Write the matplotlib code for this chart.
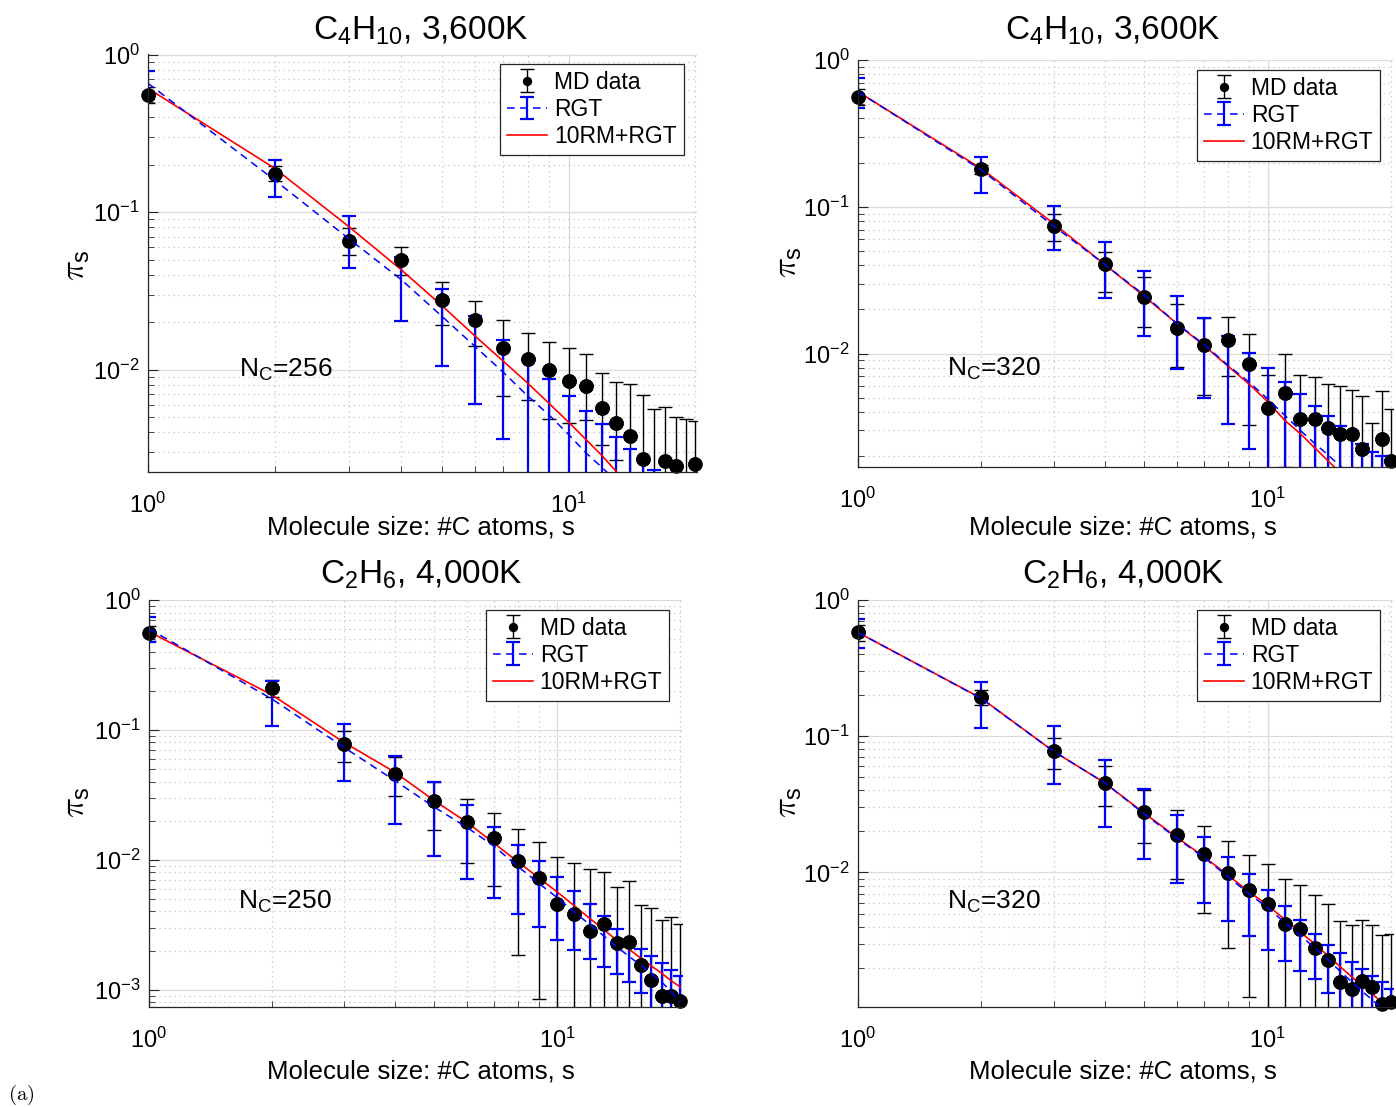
import numpy as np
import matplotlib
matplotlib.use('Agg')
import matplotlib.pyplot as plt
from matplotlib.ticker import LogLocator, NullFormatter

plt.rcParams['font.family'] = ['Liberation Sans', 'DejaVu Sans']
plt.rcParams['mathtext.default'] = 'regular'

# molecule size s = number of C atoms
s = list(range(1, 21))

# ---- C4H10, 3,600K, Nc=256 ----
p1_md = [0.555, 0.175, 0.066, 0.0499, 0.0278, 0.0207, 0.0137, 0.0117, 0.0099, 0.0085,
         0.0079, 0.0057, 0.0046, 0.0038, 0.0027, 0.0019, 0.00265, 0.00244, 0.0019, 0.0025]
p1_md_hi = [0.62, 0.195, 0.0792, 0.060, 0.0361, 0.0274, 0.0206, 0.0170, 0.0150, 0.01365,
            0.01256, 0.00953, 0.00835, 0.00807, 0.0069, 0.00564, 0.0058, 0.00501, 0.00484, 0.0047]
p1_md_lo = [0.49, 0.157, 0.0531, 0.0401, 0.0193, 0.0142, 0.00678, 0.00642, 0.00487, 0.00459,
            0.00482, 0.00331, 0.00266, 1e-5, 1e-5, 1e-5, 1e-5, 1e-5, 1e-5, 1e-5]
p1_rgt = [0.658, 0.160, 0.068, 0.0373, 0.0218, 0.0140, 0.0096, 0.0068, 0.00513, 0.00388,
          0.00296, 0.0024, 0.00195, 0.0016, 0.0013, 0.0011, 0.0009, 0.00075, 0.00065, 0.00055]
p1_rgt_hi = [0.792, 0.215, 0.0948, 0.0523, 0.0327, 0.0219, 0.0155, 0.01156, 0.00873, 0.00685,
             0.00547, 0.00452, 0.00373, 0.00314, 0.00269, 0.0023, 0.0019, 0.0016, 0.0014, 0.0012]
p1_rgt_lo = [0.524, 0.124, 0.0441, 0.0203, 0.0106, 0.00608, 0.00365, 1e-5, 1e-5, 1e-5,
             1e-5, 1e-5, 1e-5, 1e-5, 1e-5, 1e-5, 1e-5, 1e-5, 1e-5, 1e-5]
p1_rm = [0.611, 0.190, 0.0811, 0.0431, 0.0255, 0.0163, 0.0113, 0.0082, 0.00608, 0.00464,
         0.0036, 0.00285, 0.00225, 0.0018, 0.00145, 0.0012, 0.0010, 0.00085, 0.0007, 0.0006]

# ---- C4H10, 3,600K, Nc=320 ----
p2_md = [0.562, 0.182, 0.0741, 0.0405, 0.0243, 0.0150, 0.0114, 0.01233, 0.00846, 0.00426,
         0.00542, 0.0036, 0.0036, 0.00313, 0.00282, 0.00282, 0.00223, 0.0015, 0.00261, 0.00187]
p2_md_hi = [0.63, 0.192, 0.0887, 0.0493, 0.0333, 0.0219, 0.0176, 0.0178, 0.01355, 0.0072,
            0.00989, 0.00712, 0.00694, 0.00618, 0.00598, 0.00569, 0.00514, 0.00336, 0.00553, 0.00417]
p2_md_lo = [0.49, 0.168, 0.0586, 0.0263, 0.0152, 0.0081, 0.0052, 0.0070, 0.00327, 1e-5,
            0.0017, 1e-5, 1e-5, 1e-5, 1e-5, 1e-5, 1e-5, 1e-5, 1e-5, 1e-5]
p2_rgt = [0.608, 0.178, 0.0741, 0.0405, 0.025, 0.016, 0.0115, 0.0083, 0.0064, 0.0049,
          0.0038, 0.0030, 0.00245, 0.00205, 0.00172, 0.00148, 0.00128, 0.0011, 0.00097, 0.00085]
p2_rgt_hi = [0.750, 0.219, 0.1016, 0.0577, 0.0366, 0.0247, 0.0176, 0.0131, 0.0101, 0.00798,
             0.00641, 0.00528, 0.0044, 0.00376, 0.00321, 0.00275, 0.00243, 0.00214, 0.0020, 0.00189]
p2_rgt_lo = [0.468, 0.1245, 0.0507, 0.0241, 0.0131, 0.0079, 0.00499, 0.0033, 0.00225, 1e-5,
             1e-5, 1e-5, 1e-5, 1e-5, 1e-5, 1e-5, 1e-5, 1e-5, 1e-5, 1e-5]
p2_rm = [0.608, 0.182, 0.077, 0.0405, 0.0245, 0.0160, 0.0113, 0.0082, 0.0062, 0.0047,
         0.00351, 0.00285, 0.00229, 0.00187, 0.00155, 0.0013, 0.0011, 0.00095, 0.0008, 0.0007]

# ---- C2H6, 4,000K, Nc=250 ----
p3_md = [0.556, 0.209, 0.078, 0.0458, 0.0282, 0.0197, 0.0147, 0.0097, 0.00723, 0.00453,
         0.00385, 0.00282, 0.00318, 0.00229, 0.00233, 0.00156, 0.00119, 0.00089, 0.0009, 0.00082]
p3_md_hi = [0.63, 0.240, 0.0988, 0.0616, 0.0396, 0.0294, 0.0228, 0.0173, 0.01368, 0.0105,
            0.00942, 0.00853, 0.0080, 0.00617, 0.00681, 0.00451, 0.00428, 0.00341, 0.00362, 0.00322]
p3_md_lo = [0.48, 0.18, 0.0564, 0.0307, 0.0168, 0.0094, 0.0063, 0.00186, 0.000853, 1e-5,
            1e-5, 1e-5, 1e-5, 1e-5, 1e-5, 1e-5, 1e-5, 1e-5, 1e-5, 1e-5]
p3_rgt = [0.60, 0.173, 0.0735, 0.0407, 0.0254, 0.0178, 0.0127, 0.0089, 0.0066, 0.0051,
          0.00395, 0.00318, 0.00259, 0.00213, 0.0018, 0.00154, 0.00133, 0.00115, 0.00096, 0.0008]
p3_rgt_hi = [0.746, 0.236, 0.111, 0.0634, 0.0396, 0.0262, 0.018, 0.0130, 0.0097, 0.00736,
             0.00574, 0.00453, 0.00366, 0.00291, 0.0024, 0.00206, 0.0018, 0.0016, 0.00141, 0.00127]
p3_rgt_lo = [0.473, 0.108, 0.0407, 0.0189, 0.0107, 0.00706, 0.0051, 0.00379, 0.00303, 0.00243,
             0.00201, 0.00171, 0.00150, 0.00133, 0.00115, 0.00095, 1e-5, 1e-5, 1e-5, 1e-5]
p3_rm = [0.57, 0.186, 0.0803, 0.0472, 0.0285, 0.0195, 0.0134, 0.00966, 0.00727, 0.00564,
         0.00443, 0.00354, 0.0029, 0.00239, 0.00204, 0.00175, 0.00152, 0.00134, 0.00117, 0.00105]

# ---- C2H6, 4,000K, Nc=320 ----
p4_md = [0.578, 0.195, 0.0775, 0.0455, 0.028, 0.0188, 0.0136, 0.00995, 0.00741, 0.00591,
         0.00421, 0.00387, 0.00279, 0.00229, 0.00156, 0.0014, 0.00161, 0.00144, 0.00109, 0.00113]
p4_md_hi = [0.66, 0.218, 0.0972, 0.0604, 0.040, 0.0288, 0.0221, 0.0171, 0.01343, 0.01151,
            0.00893, 0.00816, 0.00689, 0.00585, 0.00438, 0.00414, 0.00446, 0.00414, 0.00345, 0.00355]
p4_md_lo = [0.50, 0.169, 0.0578, 0.031, 0.0164, 0.00893, 0.00507, 0.0028, 0.00122, 1e-5,
            1e-5, 1e-5, 1e-5, 1e-5, 1e-5, 1e-5, 1e-5, 1e-5, 1e-5, 1e-5]
p4_rgt = [0.578, 0.189, 0.0775, 0.0455, 0.0268, 0.0178, 0.0128, 0.0093, 0.00696, 0.0055,
          0.00428, 0.00345, 0.00281, 0.0023, 0.00189, 0.00158, 0.00134, 0.00116, 0.0010, 0.00086]
p4_rgt_hi = [0.728, 0.251, 0.119, 0.0665, 0.041, 0.0265, 0.0183, 0.0130, 0.00972, 0.00741,
             0.00567, 0.00446, 0.00355, 0.00296, 0.00256, 0.00222, 0.00196, 0.00173, 0.00156, 0.0014]
p4_rgt_lo = [0.448, 0.115, 0.0443, 0.0215, 0.0126, 0.0084, 0.00597, 0.0044, 0.00341, 0.00272,
             0.00226, 0.0019, 0.00164, 0.0013, 1e-5, 1e-5, 1e-5, 1e-5, 1e-5, 1e-5]
p4_rm = [0.578, 0.19, 0.0775, 0.0455, 0.0272, 0.0181, 0.0130, 0.00955, 0.0072, 0.00574,
         0.00451, 0.00365, 0.0030, 0.00246, 0.00204, 0.00172, 0.00148, 0.00128, 0.00111, 0.00098]

titles = [r'$C_4H_{10}$, 3,600K', r'$C_4H_{10}$, 3,600K', r'$C_2H_6$, 4,000K', r'$C_2H_6$, 4,000K']
nc_labels = [r'$N_C$=256', r'$N_C$=320', r'$N_C$=250', r'$N_C$=320']
nc_y = [0.0100, 0.0079, 0.0047, 0.0061]
ylims = [(2.24e-3, 1.01), (1.69e-3, 1.0), (7.35e-4, 1.0), (1.03e-3, 1.0)]

panels = [
    (p1_md, p1_md_lo, p1_md_hi, p1_rgt, p1_rgt_lo, p1_rgt_hi, p1_rm),
    (p2_md, p2_md_lo, p2_md_hi, p2_rgt, p2_rgt_lo, p2_rgt_hi, p2_rm),
    (p3_md, p3_md_lo, p3_md_hi, p3_rgt, p3_rgt_lo, p3_rgt_hi, p3_rm),
    (p4_md, p4_md_lo, p4_md_hi, p4_rgt, p4_rgt_lo, p4_rgt_hi, p4_rm),
]

# layout in pixels: left, top, right, bottom of each axes
W, H = 1396, 1107
boxes = [(148, 54, 697, 472), (858, 60, 1393, 467), (149, 600, 682, 1007), (858, 600, 1393, 1007)]
title_xy = [(421, 31), (1113, 31), (421, 575), (1123, 575)]
xlabel_xy = [(421, 527), (1123, 527), (421, 1071), (1123, 1071)]
ylabel_xy = [(77, 265), (789, 262), (77, 802), (789, 802)]

fig = plt.figure(figsize=(W / 100, H / 100), dpi=100)

for i, (md, md_lo, md_hi, rgt, rgt_lo, rgt_hi, rm) in enumerate(panels):
    l, t, r, b = boxes[i]
    ax = fig.add_axes([l / W, 1 - b / H, (r - l) / W, (b - t) / H])
    md, md_lo, md_hi = np.array(md), np.array(md_lo), np.array(md_hi)
    rgt, rgt_lo, rgt_hi = np.array(rgt), np.array(rgt_lo), np.array(rgt_hi)
    lo_lim, hi_lim = ylims[i]

    h_md = ax.errorbar(s, md, yerr=[md - md_lo, md_hi - md], fmt='o', color='black',
                       markersize=9.5, elinewidth=1.0, capsize=5, capthick=1.0)
    # markers are not cut at the axes edge (MATLAB style), only those inside the y range
    vis = (md > lo_lim) & (md < hi_lim)
    ax.plot(np.array(s)[vis], md[vis], 'o', color='black', markersize=9.5, clip_on=False, zorder=1.9)
    h_rgt = ax.errorbar(s, rgt, yerr=[rgt - rgt_lo, rgt_hi - rgt], fmt='--', color='blue',
                        dashes=(5, 3.5), linewidth=1.1, elinewidth=1.6, capsize=5, capthick=1.6)
    h_rm, = ax.plot(s, rm, '-', color='red', linewidth=1.2)

    ax.set_xscale('log')
    ax.set_yscale('log')
    ax.set_xlim(1, 20.2)
    ax.set_ylim(lo_lim, hi_lim)
    ax.yaxis.set_major_locator(LogLocator(base=10, numticks=10))
    ax.yaxis.set_minor_locator(LogLocator(base=10, subs=np.arange(2, 10), numticks=20))
    ax.xaxis.set_minor_formatter(NullFormatter())
    ax.yaxis.set_minor_formatter(NullFormatter())

    ax.set_axisbelow(True)
    ax.grid(True, which='major', color='#dcdcdc', linewidth=0.9)
    ax.grid(True, which='minor', color='#c4c4c4', linestyle=(0, (1, 3)), linewidth=0.9)
    for side in ['top', 'right']:
        ax.spines[side].set_visible(False)
    for side in ['left', 'bottom']:
        ax.spines[side].set_color('#262626')
        ax.spines[side].set_linewidth(0.9)
    ax.tick_params(which='both', direction='in', colors='#262626', labelcolor='black')
    ax.tick_params(which='major', length=7, width=0.8, labelsize=17)
    ax.tick_params(which='minor', length=4, width=0.6)
    ax.tick_params(axis='x', which='major', pad=15)
    ax.tick_params(axis='y', which='major', pad=6)

    ax.text(1.65, nc_y[i], nc_labels[i], fontsize=19, va='center', ha='left')

    leg = ax.legend([h_md, h_rgt, h_rm], ['MD data', 'RGT', '10RM+RGT'],
                    loc='upper right', bbox_to_anchor=(0.976, 0.976), borderaxespad=0,
                    fontsize=16.5, fancybox=False, framealpha=1, edgecolor='#262626',
                    markerscale=0.6, handlelength=1.75, handletextpad=0.3,
                    labelspacing=0.18, borderpad=0.3)
    leg.get_frame().set_linewidth(0.9)

    tx, ty = title_xy[i]
    fig.text(tx / W, 1 - ty / H, titles[i], fontsize=24, ha='center', va='center')
    lx, ly = xlabel_xy[i]
    fig.text(lx / W, 1 - ly / H, 'Molecule size: #C atoms, s', fontsize=18.5, ha='center', va='center')
    yx, yy = ylabel_xy[i]
    fig.text(yx / W, 1 - yy / H, r'$\mathit{\pi}_\mathregular{s}$', fontsize=24, rotation=90,
             ha='center', va='center', math_fontfamily='cm')

fig.text(8 / W, 1 - 1095 / H, r'$\mathrm{(a)}$', fontsize=15, ha='left', va='center',
         math_fontfamily='cm')

fig.savefig('out.png', dpi=100)
